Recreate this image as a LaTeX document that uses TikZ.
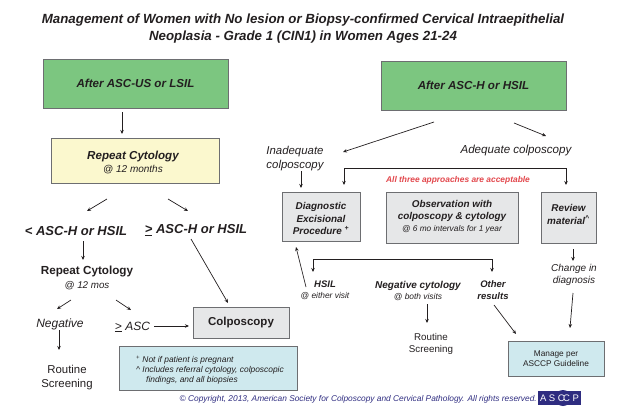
\documentclass[tikz,border=0pt]{standalone}
\usepackage{fontspec}
\setmainfont{Liberation Sans}
\usetikzlibrary{arrows.meta}
\definecolor{CGreen}{HTML}{7CC680}
\definecolor{CYellow}{HTML}{FBF8CE}
\definecolor{CGray}{HTML}{E6E7E8}
\definecolor{CBlue}{HTML}{CFE9EE}
\definecolor{CRed}{HTML}{E2474C}
\definecolor{CNavy}{HTML}{2E2C80}
\definecolor{CEdge}{HTML}{6D6E71}
\definecolor{CInk}{HTML}{231F20}
\newcommand{\fs}[2]{\fontsize{#1}{#2}\selectfont}

\begin{document}
\begin{tikzpicture}[
    x=1pt, y=-1pt,
    >={Stealth[length=4pt, width=3.5pt]},
    every node/.style={inner sep=0pt, align=center, text=CInk},
    box/.style={draw=CEdge, line width=0.8pt},
    greenbox/.style={box, fill=CGreen, minimum width=185, minimum height=49, font=\bfseries\itshape\fs{11.6}{13}},
    graybox/.style={box, fill=CGray},
    graytext/.style={font=\bfseries\itshape\fs{9.9}{12.3}},
    bluebox/.style={box, fill=CBlue},
    big/.style={font=\bfseries\itshape\fs{13}{15}},
    plain/.style={font=\itshape\fs{12}{14}},
    small/.style={font=\bfseries\itshape\fs{9.5}{12}},
    screening/.style={font=\fs{11.4}{14}},
    arr/.style={->, line width=0.7pt, CInk}
]
    \useasboundingbox (0,0) rectangle (632,418);

    % === TITLE ===
    \node[font=\bfseries\itshape\fs{13.3}{17.5}] (title) at (303,28.5)
        {Management of Women with No lesion or Biopsy-confirmed Cervical Intraepithelial\\Neoplasia - Grade 1 (CIN1) in Women Ages 21-24};

    % === LEFT BRANCH ===
    \node[greenbox] (greenA) at (135.5,83.5) {After ASC-US or LSIL};
    \node[box, fill=CYellow, minimum width=168, minimum height=45] (yellowBox) at (135,160.5) {};
    \node[font=\fs{10}{13}] (yellowText) at (133,162)
        {{\bfseries\itshape\fs{11.6}{13}Repeat Cytology}\\\itshape @ 12 months};
    \node[big] (lessLabel) at (76,231) {< ASC-H or HSIL};
    \node[big] (geqLabel) at (196,230) {\underline{>} ASC-H or HSIL};
    \node[font=\fs{9.8}{14}] (repeatLabel) at (87,277.5)
        {{\bfseries\fs{11.7}{14}Repeat Cytology}\\\itshape @ 12 mos};
    \node[plain] (negLabel) at (60,324) {Negative};
    \node[plain] (ascLabel) at (132.5,327) {\underline{>} ASC};
    \node[screening] (routineA) at (67,378) {Routine\\Screening};
    \node[box, fill=CGray, minimum width=96, minimum height=31, font=\bfseries\fs{11.5}{13}] (colpoBox) at (241,322.5) {\raisebox{-1.5pt}{Colposcopy}};
    \node[bluebox, minimum width=178, minimum height=44] (noteBox) at (208,368) {};
    \node[align=left, anchor=west, font=\itshape\fs{8.4}{10}] (noteText) at (136,370)
        {\textsuperscript{+} Not if patient is pregnant\\\textasciicircum\ Includes referral cytology, colposcopic\\\hspace*{10pt}findings, and all biopsies};

    \draw[arr] ([shift={(-13.5,28.5)}]greenA.center) -- ([shift={(-13,-26.5)}]yellowBox.center);
    \draw[arr] ([shift={(-28,38.5)}]yellowBox.center) -- ([shift={(11,-20)}]lessLabel.center);
    \draw[arr] ([shift={(33,38.5)}]yellowBox.center) -- ([shift={(-8,-19)}]geqLabel.center);
    \draw[arr] ([shift={(7,10)}]lessLabel.center) -- ([shift={(-4,-17.5)}]repeatLabel.center);
    \draw[arr] ([shift={(-16,22.5)}]repeatLabel.center) -- ([shift={(-3,-15)}]negLabel.center);
    \draw[arr] ([shift={(29,22.5)}]repeatLabel.center) -- ([shift={(-1.5,-17)}]ascLabel.center);
    \draw[arr] ([shift={(-1,6)}]negLabel.center) -- ([shift={(-8,-28)}]routineA.center);
    \draw[arr] ([shift={(21.5,-1)}]ascLabel.center) -- ([shift={(-52,3.5)}]colpoBox.center);
    \draw[arr] ([shift={(-5,9)}]geqLabel.center) -- ([shift={(-13,-19.5)}]colpoBox.center);

    % === RIGHT BRANCH ===
    \node[greenbox] (greenB) at (473.5,85.5) {After ASC-H or HSIL};
    \node[align=left, font=\itshape\fs{11.4}{14}] (inadLabel) at (295,159) {Inadequate\\colposcopy};
    \node[font=\itshape\fs{11.6}{14}] (adeqLabel) at (516,150) {Adequate colposcopy};
    \node[font=\bfseries\itshape\fs{8.4}{10}, text=CRed] (redLabel) at (458,180) {All three approaches are acceptable};

    % three approaches
    \node[graybox, minimum width=78, minimum height=49] (diagBox) at (321,216.5) {};
    \node[graytext] (diagText) at (321,218.5) {Diagnostic\\Excisional\\Procedure \textsuperscript{+}};
    \node[graybox, minimum width=132, minimum height=51] (obsBox) at (452,217.5) {};
    \node[graytext] (obsText) at (452,216.5)
        {Observation with\\colposcopy \& cytology\\[-1pt]{\mdseries\fs{8.3}{10}@ 6 mo intervals for 1 year}};
    \node[graybox, minimum width=55, minimum height=51] (reviewBox) at (568.5,217.5) {};
    \node[graytext] (reviewText) at (568.5,214.5) {Review\\material\textsuperscript{\textasciicircum}};

    % results
    \node[font=\itshape\fs{8.4}{11}] (hsilLabel) at (325,290.5)
        {{\bfseries\fs{9.5}{11}HSIL}\\@ either visit};
    \node[font=\itshape\fs{8.4}{11}] (negCyto) at (418,291)
        {{\bfseries\fs{10}{11}Negative cytology}\\@ both visits};
    \node[small] (otherLabel) at (493,290) {Other\\results};
    \node[font=\fs{9.8}{12}] (routineB) at (431,344) {Routine\\Screening};
    \node[font=\itshape\fs{10}{12}] (changeLabel) at (574,275) {Change in\\diagnosis};
    \node[bluebox, minimum width=96, minimum height=35, font=\fs{8.3}{10}] (manageBox) at (556,358.5)
        {Manage per\\ASCCP Guideline};

    \draw[arr] ([shift={(-39.5,36.5)}]greenB.center) -- ([shift={(48,-7)}]inadLabel.center);
    \draw[arr] ([shift={(40.5,37.5)}]greenB.center) -- ([shift={(30,-14)}]adeqLabel.center);
    \draw[arr] ([shift={(6,12)}]inadLabel.center) -- ([shift={(-20,-28.5)}]diagBox.center);
    \draw[<->, line width=0.8pt, CInk] ([shift={(23,-31.5)}]diagBox.center) -- ++(0,-17) -| ([shift={(-2.5,-32.5)}]reviewBox.center);
    \draw[<->, line width=0.8pt, CInk] ([shift={(-12,-18.5)}]hsilLabel.center) -- ++(0,-13) -| ([shift={(-1,-18)}]otherLabel.center);
    \draw[arr] ([shift={(-19,-3.5)}]hsilLabel.center) -- ([shift={(-25,30.5)}]diagBox.center);
    \draw[arr] ([shift={(9,13)}]negCyto.center) -- ([shift={(-4,-21)}]routineB.center);
    \draw[arr] ([shift={(1,15)}]otherLabel.center) -- ([shift={(-40,-24.5)}]manageBox.center);
    \draw[arr] ([shift={(4.5,31.5)}]reviewBox.center) -- ([shift={(-1,-14)}]changeLabel.center);
    \draw[arr] ([shift={(-1,18)}]changeLabel.center) -- ([shift={(14,-30.5)}]manageBox.center);

    % === FOOTER ===
    \node[font=\itshape\fs{8.35}{10}, text=CNavy, anchor=east] (copyright) at (537,399)
        {© Copyright, 2013, American Society for Colposcopy and Cervical Pathology. All rights reserved.};
    \node[fill=CNavy, minimum width=43, minimum height=14] (logoBox) at (559.5,398) {};
    \fill[CNavy] (logoBox.center) ++(3.5,0) circle (8);
    \node[font=\fs{9.5}{12}, text=white] (logoText) at (logoBox) {A\hspace{2.5pt}S\hspace{2.5pt}C\kern-1.5pt C\hspace{2.5pt}P};
\end{tikzpicture}
\end{document}
